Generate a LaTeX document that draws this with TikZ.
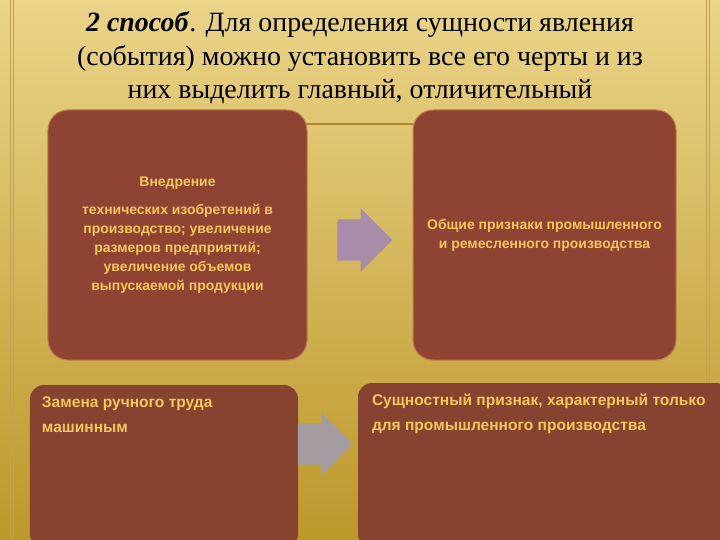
\documentclass[tikz,border=0pt]{standalone}
\usepackage{fontspec}
\setmainfont{Liberation Serif}
\newfontfamily\boxfont{Liberation Sans}
\usetikzlibrary{positioning}
\usetikzlibrary{shapes.arrows}
\definecolor{bgTop}{HTML}{EAD488}
\definecolor{bgMid}{HTML}{DCBF5E}
\definecolor{bgBot}{HTML}{BC982A}
\definecolor{boxRed}{HTML}{8F4433}
\definecolor{boxBrown}{HTML}{864430}
\definecolor{boxEdge}{HTML}{C27A4E}
\definecolor{boxText}{HTML}{F4C65C}
\definecolor{arrowLilac}{HTML}{A98CAA}
\definecolor{arrowGrey}{HTML}{A59CA2}
\definecolor{lineGold}{HTML}{B08A2A}
\tikzstyle{featbox} = [rectangle, rounded corners=20bp, fill=boxRed, draw=boxEdge, line width=1bp, text=boxText, font=\boxfont\bfseries\fontsize{14}{19}\selectfont, align=center, inner sep=0pt]
\tikzstyle{sumbox} = [rectangle, rounded corners=14bp, fill=boxBrown, inner sep=0pt]
\tikzstyle{sumtext} = [text=boxText, font=\boxfont\bfseries\fontsize{15.6}{25}\selectfont, align=left, anchor=north west, inner sep=0pt]
\tikzstyle{blockarrow} = [single arrow, single arrow head extend=11bp, minimum height=55bp, inner xsep=0pt, inner ysep=20.5bp]
\tikzstyle{edgeline} = [draw=lineGold!80, line width=0.6bp]

\begin{document}
\begin{tikzpicture}[x=1bp, y=-1bp]
\useasboundingbox (0,0) rectangle (720,540);
\clip (0,0) rectangle (720,540);
\shade[top color=bgTop, middle color=bgMid, bottom color=bgBot] (0,0) rectangle (720,540);
% frame lines
\draw[edgeline] (10,0) -- (10,540);
\draw[edgeline] (13,0) -- (13,540);
\draw[edgeline] (706,0) -- (706,540);
\draw[edgeline] (709,0) -- (709,540);

\node[font=\fontsize{28}{33.5}\selectfont, align=center] (title) at (360,58)
  {\textbf{\textit{2 способ}}. Для определения сущности явления\\
   (события) можно установить все его черты и из\\
   них выделить главный, отличительный};

% top row
\draw[lineGold, line width=1.2bp] (290,124) -- (430,124);
\node[featbox, minimum width=259bp, minimum height=250bp] (changes) at (177.5,235)
  {Внедрение\\[9bp]
   технических изобретений в\\
   производство; увеличение\\
   размеров предприятий;\\
   увеличение объемов\\
   выпускаемой продукции};
\node[featbox, minimum width=263bp, minimum height=250bp] (common) at (544.5,235)
  {Общие признаки промышленного\\
   и ремесленного производства};
\node[blockarrow, fill=arrowLilac] (top_arrow) at (354.5,240) {};

% bottom row
\node[sumbox, minimum width=268bp, minimum height=163bp] (manual) at (164,466.5) {};
\node[sumtext] (manual_text) at ([shift={(12,12)}]manual.north west)
  {Замена ручного труда\\ машинным};
\node[sumbox, minimum width=372bp, minimum height=165bp] (essence) at (544,465.5) {};
\node[sumtext] (essence_text) at ([shift={(14,11)}]essence.north west)
  {Сущностный признак, характерный только\\ для промышленного производства};
\node[blockarrow, fill=arrowGrey] (bottom_arrow) at (315,444) {};
\end{tikzpicture}
\end{document}
